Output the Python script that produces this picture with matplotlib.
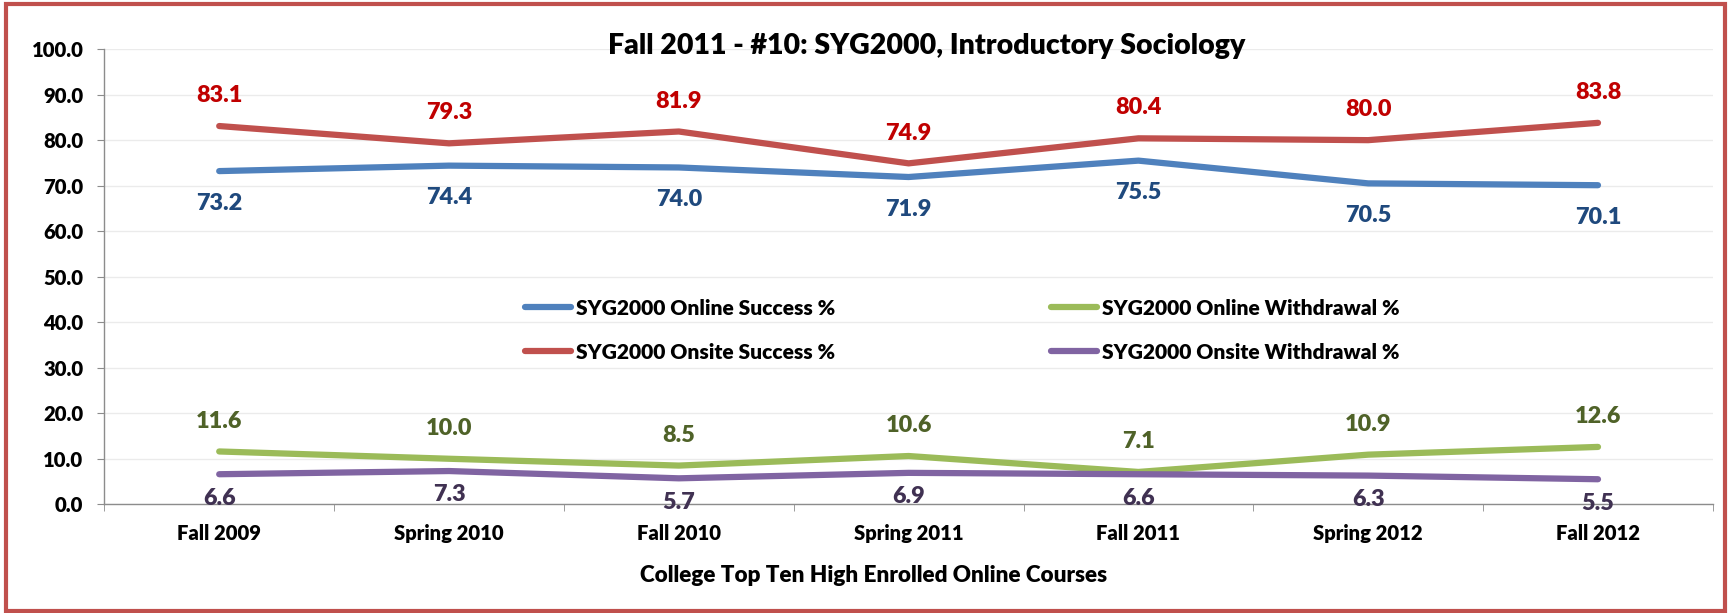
import matplotlib
matplotlib.use("Agg")
import matplotlib.pyplot as plt
from matplotlib.patches import Rectangle
from matplotlib.ticker import FormatStrFormatter, FixedLocator
import numpy as np

plt.rcParams['font.family'] = ['Lato', 'DejaVu Sans']
plt.rcParams['font.weight'] = 'heavy'
WEIGHT = 'heavy'

terms = ["Fall 2009", "Spring 2010", "Fall 2010", "Spring 2011",
         "Fall 2011", "Spring 2012", "Fall 2012"]
online_success = [73.2, 74.4, 74.0, 71.9, 75.5, 70.5, 70.1]
onsite_success = [83.1, 79.3, 81.9, 74.9, 80.4, 80.0, 83.8]
online_withdrawal = [11.6, 10.0, 8.5, 10.6, 7.1, 10.9, 12.6]
onsite_withdrawal = [6.6, 7.3, 5.7, 6.9, 6.6, 6.3, 5.5]

# (label, values, line colour, label colour, label offset in points)
series = [
    ("SYG2000 Online Success %", online_success, "#4F81BD", "#1F497D", -23),
    ("SYG2000 Onsite Success %", onsite_success, "#C0504D", "#C00000", 22),
    ("SYG2000 Online Withdrawal %", online_withdrawal, "#9BBB59", "#4F6228", 22),
    ("SYG2000 Onsite Withdrawal %", onsite_withdrawal, "#8064A2", "#403152", -17),
]

W, H = 1728, 613
fig = plt.figure(figsize=((W + 0.2) / 100, (H + 0.2) / 100), dpi=100)
ax_l, ax_r, ax_t, ax_b = 104.3, 1712.7, 49.3, 504.3
ax = fig.add_axes([ax_l / W, 1 - ax_b / H, (ax_r - ax_l) / W, (ax_b - ax_t) / H])

x = np.arange(len(terms))
handles = []
for name, vals, color, lcolor, off in series:
    h, = ax.plot(x, vals, color=color, lw=4.5, solid_capstyle='round',
                 solid_joinstyle='round', zorder=3, label=name)
    handles.append(h)
    for xi, v in zip(x, vals):
        ax.annotate(f"{v:.1f}", (xi, v), xytext=(0, off), textcoords="offset points",
                    ha='center', va='center', fontsize=16.8, color=lcolor,
                    fontweight=WEIGHT, zorder=4)

ax.set_xlim(-0.5, len(terms) - 0.5)
ax.set_ylim(0, 100)
ax.set_yticks(np.arange(0, 101, 10))
ax.yaxis.set_major_formatter(FormatStrFormatter("%.1f"))
ax.set_xticks(x)
ax.set_xticklabels(terms)
ax.xaxis.set_minor_locator(FixedLocator(np.arange(-0.5, len(terms), 1.0)))

ax.grid(axis='y', color="#EBEBEB", lw=1.0, zorder=0)
for side in ["top", "right"]:
    ax.spines[side].set_visible(False)
for side in ["left", "bottom"]:
    ax.spines[side].set_color("#8C8C8C")
    ax.spines[side].set_linewidth(1.0)

ax.tick_params(axis='y', length=5, color="#8C8C8C", pad=10, labelsize=14.6)
ax.tick_params(axis='x', which='major', length=0, pad=14, labelsize=14.6)
ax.tick_params(axis='x', which='minor', length=5, color="#8C8C8C")
for lbl in ax.get_xticklabels() + ax.get_yticklabels():
    lbl.set_fontweight(WEIGHT)

fig.text(927 / W, 1 - 46 / H, "Fall 2011 - #10: SYG2000, Introductory Sociology",
         ha='center', va='center', fontsize=20.5, fontweight=WEIGHT)
fig.text(873 / W, 1 - 575 / H, "College Top Ten High Enrolled Online Courses",
         ha='center', va='center', fontsize=16.2, fontweight=WEIGHT)

leg = fig.legend(handles=handles, ncol=2, loc='center',
                 bbox_to_anchor=(962 / W, 1 - 330 / H), frameon=False,
                 prop={'size': 15.1, 'weight': WEIGHT}, handlelength=2.2,
                 handletextpad=0.23, columnspacing=10.3, labelspacing=1.2)

fig.patches.append(Rectangle((6 / W, 2 / H), (W - 9) / W, (H - 6) / H,
                             transform=fig.transFigure, fill=False,
                             edgecolor="#C0504D", lw=3, zorder=10))

fig.savefig("out.png", dpi=100, facecolor='white')
